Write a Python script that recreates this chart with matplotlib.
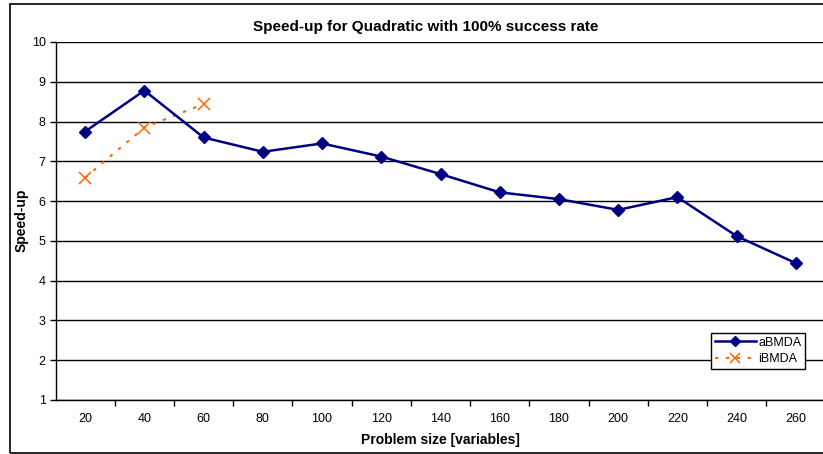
import matplotlib.pyplot as plt
from matplotlib.patches import Rectangle

plt.rcParams['font.family'] = ['Liberation Sans', 'DejaVu Sans']

sizes = [20, 40, 60, 80, 100, 120, 140, 160, 180, 200, 220, 240, 260]
abmda = [7.75, 8.78, 7.60, 7.24, 7.45, 7.12, 6.68, 6.22, 6.05, 5.78, 6.10, 5.12, 4.44]
ibmda = [6.59, 7.85, 8.44]

W, H = 823, 454
fig = plt.figure(figsize=(W / 100, H / 100), dpi=100)

# plot area runs a little past the right edge of the image
left, right, top, bottom = 55.5, 825.5, 42, 400
ax = fig.add_axes([left / W, 1 - bottom / H, (right - left) / W, (bottom - top) / H])

xs = list(range(len(sizes)))
ax.plot(xs, abmda, color='#000080', lw=1.8, marker='D', ms=6.5, label='aBMDA', zorder=4)
ax.plot(xs[:len(ibmda)], ibmda, color='#FF6600', lw=1.5, ls=(0, (1.6, 3.6)),
        marker='x', ms=9, mew=1.1, label='iBMDA', zorder=3)

ax.set_xlim(-0.5, len(sizes) - 0.5)
ax.set_ylim(1, 10)
ax.set_yticks(range(1, 11))
ax.set_xticks(xs)
ax.set_xticklabels(sizes)
ax.set_xticks([x + 0.5 for x in xs[:-1]], minor=True)
ax.tick_params(axis='x', which='major', length=0, pad=9, labelsize=9)
ax.tick_params(axis='x', which='minor', length=4, width=1, direction='out')
ax.tick_params(axis='y', length=4, width=1, direction='out', pad=3, labelsize=9)

ax.grid(axis='y', color='black', lw=1)
ax.set_axisbelow(True)
for s in ['top', 'right']:
    ax.spines[s].set_visible(False)
for s in ['left', 'bottom']:
    ax.spines[s].set_linewidth(1)
    ax.spines[s].set_zorder(5)

leg = ax.legend(loc='upper left', bbox_to_anchor=((711 - left) / (right - left), 1 - (333 - top) / (bottom - top)),
                frameon=True, fancybox=False, framealpha=1, edgecolor='black',
                fontsize=9, handlelength=3.3, borderpad=0.3, labelspacing=0.35,
                handletextpad=0.2, borderaxespad=0, markerscale=0.8)
leg.get_frame().set_linewidth(1)
leg.set_zorder(6)

fig.text(426 / W, 1 - 27 / H, 'Speed-up for Quadratic with 100% success rate',
         ha='center', va='center', fontsize=11, fontweight='bold')
fig.text(440 / W, 1 - 440 / H, 'Problem size [variables]',
         ha='center', va='center', fontsize=10, fontweight='bold')
fig.text(22 / W, 1 - 220 / H, 'Speed-up', rotation=90,
         ha='center', va='center', fontsize=10, fontweight='bold')

# outer chart border
fig.patches.append(Rectangle((9.5 / W, 1 - 453 / H), (840 - 9.5) / W, (453 - 3.5) / H,
                             transform=fig.transFigure, fill=False, edgecolor='black', lw=1.2))

fig.savefig('out.png', dpi=100)
